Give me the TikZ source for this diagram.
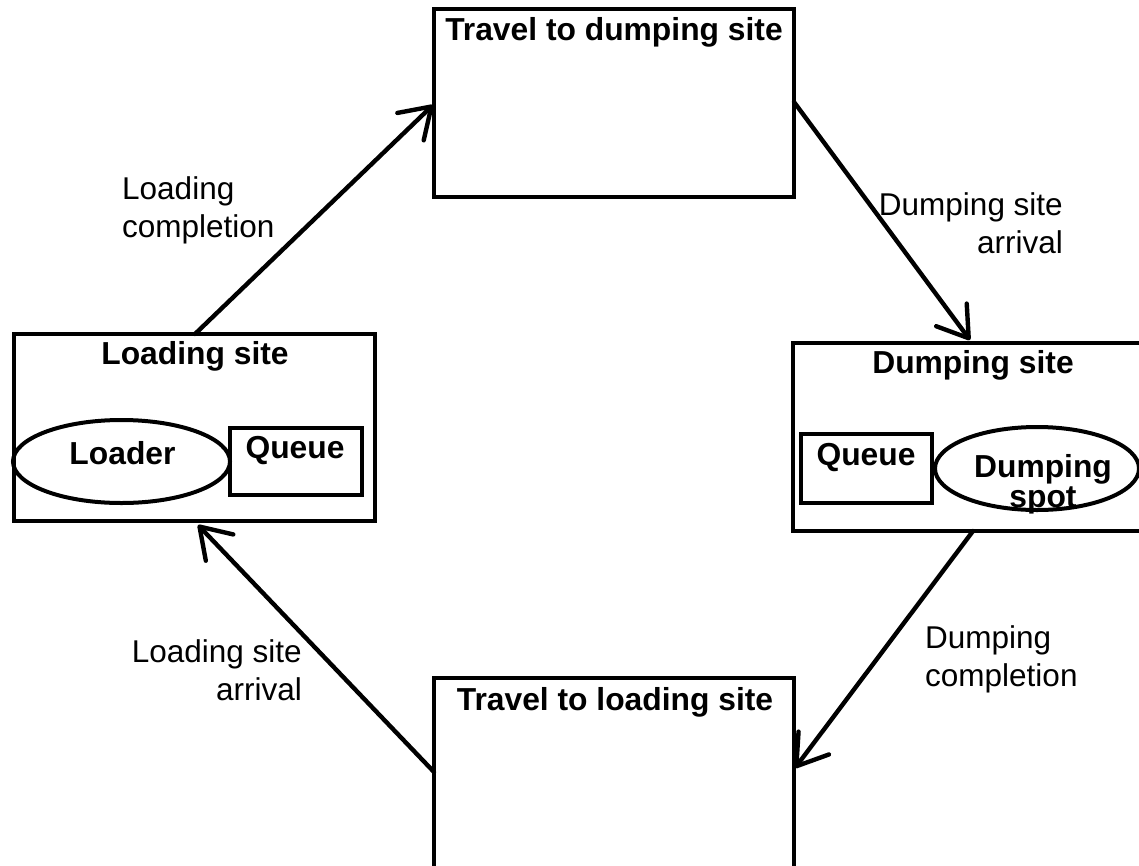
\documentclass[tikz,border=0pt]{standalone}
\usepackage{fontspec}
\setmainfont{Liberation Sans}
\usetikzlibrary{arrows.meta,shapes.geometric}
\tikzset{
  box/.style={draw, line width=4pt, rectangle, inner sep=0pt},
  oval/.style={draw, line width=4pt, ellipse, inner sep=0pt},
  ttl/.style={font=\fontsize{31.8pt}{30pt}\selectfont\bfseries, anchor=base, inner sep=0pt},
  lbl/.style={font=\fontsize{31.5pt}{37.5pt}\selectfont, inner sep=0pt},
  flow/.style={line width=4.4pt, line cap=round, -{Straight Barb[length=29pt, width=38pt, line width=4.4pt, round]}},
}
\begin{document}
\begin{tikzpicture}[x=1pt, y=-1pt]
\useasboundingbox (0,0) rectangle (1139,865);
% boxes
\node[box, minimum width=360pt, minimum height=188pt] (tdump) at (614,103) {};
\node[ttl] (tdumpT) at (614,40) {Travel to dumping site};
\node[box, minimum width=361pt, minimum height=187pt] (lsite) at (194.5,427.5) {};
\node[ttl] (lsiteT) at (195,364) {Loading site};
\node[oval, minimum width=217pt, minimum height=83pt] (loader) at (121.5,461.5) {};
\node[ttl] (loaderT) at (122.5,464) {Loader};
\node[box, minimum width=132pt, minimum height=67pt] (lq) at (296,461.5) {};
\node[ttl] (lqT) at (295,458) {Queue};
\node[box, minimum width=357pt, minimum height=188pt] (dsite) at (971.5,437) {};
\node[ttl] (dsiteT) at (973,373) {Dumping site};
\node[box, minimum width=131pt, minimum height=69pt] (dq) at (866.5,468.5) {};
\node[ttl] (dqT) at (866,465) {Queue};
\node[oval, minimum width=204pt, minimum height=83pt] (dspot) at (1037,468.5) {};
\node[ttl, align=center] (dspotT) at (1043,507) {Dumping\\spot};
\node[box, minimum width=360pt, minimum height=240pt] (tload) at (614,798) {};
\node[ttl] (tloadT) at (615,710) {Travel to loading site};
% connector end points
\coordinate (a1s) at (195,334);
\coordinate (a1e) at (433,105);
\coordinate (a2s) at (794,102);
\coordinate (a2e) at (970,340);
\coordinate (a3s) at (973,531);
\coordinate (a3e) at (795,768);
\coordinate (a4s) at (434,772);
\coordinate (a4e) at (198,525);
\draw[flow] (a1s) -- (a1e);
\draw[flow] (a2s) -- (a2e);
\draw[flow] (a3s) -- (a3e);
\draw[flow] (a4s) -- (a4e);
% labels
\node[lbl, anchor=base west, align=left] (l1) at (122,237) {Loading\\completion};
\node[lbl, anchor=base east, align=right] (l2) at (1063,253) {Dumping site\\arrival};
\node[lbl, anchor=base west, align=left] (l3) at (925,686) {Dumping\\completion};
\node[lbl, anchor=base east, align=right] (l4) at (302,700) {Loading site\\arrival};
\end{tikzpicture}
\end{document}
